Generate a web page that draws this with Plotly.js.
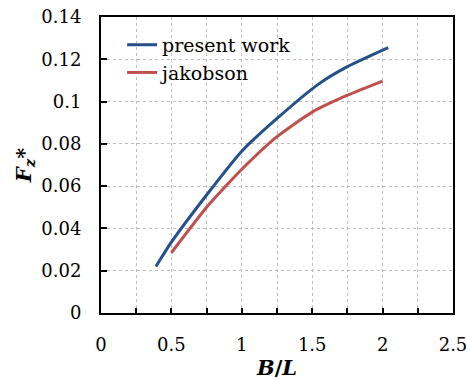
<!DOCTYPE html>
<html>
<head>
<meta charset="utf-8">
<script src="https://cdn.plot.ly/plotly-3.0.1.min.js"></script>
<style>
html,body{margin:0;padding:0;background:#fff;}
#chart{width:467px;height:380px;}
</style>
</head>
<body>
<div id="chart"></div>
<script>
const presentX = [0.39, 0.5, 0.75, 1.0, 1.25, 1.55, 1.75, 2.04];
const presentY = [0.022, 0.0335, 0.0558, 0.0765, 0.092, 0.1085, 0.1165, 0.1255];
const jakobsonX = [0.5, 0.75, 0.9, 1.0, 1.25, 1.5, 1.75, 2.0];
const jakobsonY = [0.0285, 0.050, 0.061, 0.068, 0.0834, 0.095, 0.103, 0.1097];
const seriesNames = ["present work", "jakobson"];

const font = "DejaVu Serif";
const traces = [
  {x: presentX, y: presentY, name: seriesNames[0], mode: "lines", type: "scatter",
   line: {color: "#24508C", width: 3, shape: "spline", smoothing: 0.6}},
  {x: jakobsonX, y: jakobsonY, name: seriesNames[1], mode: "lines", type: "scatter",
   line: {color: "#C0504D", width: 3, shape: "spline", smoothing: 0.6}}
];
const gridc = "#bdbdbd";
const layout = {
  width: 467, height: 380,
  margin: {l: 101, r: 14, t: 17, b: 67},
  paper_bgcolor: "#fff", plot_bgcolor: "#fff",
  font: {family: font, size: 19, color: "#000"},
  showlegend: true,
  legend: {x: 0.06, y: 0.97, xanchor: "left", yanchor: "top", bgcolor: "rgba(0,0,0,0)",
           font: {family: font, size: 19, color: "#000"}, tracegroupgap: 0, itemwidth: 30},
  xaxis: {
    range: [0, 2.5], dtick: 0.5, tick0: 0,
    showline: true, linecolor: "#000", linewidth: 2, mirror: true,
    ticks: "inside", ticklen: 5, tickcolor: "#000", tickwidth: 2,
    showgrid: true, gridcolor: gridc, griddash: "dot", gridwidth: 1,
    minor: {dtick: 0.25, ticks: "inside", ticklen: 5, tickcolor: "#000", tickwidth: 2,
            showgrid: true, gridcolor: gridc, griddash: "dot", gridwidth: 1},
    zeroline: false, ticklabelstandoff: 14, ticklabeloverflow: "allow",
    tickfont: {family: font, size: 18, color: "#000"},
    title: {text: "<b><i>B</i></b><b>/</b><b><i>L</i></b>", font: {family: font, size: 21}, standoff: 8}
  },
  yaxis: {
    range: [0, 0.14], dtick: 0.02, tick0: 0,
    showline: true, linecolor: "#000", linewidth: 2, mirror: true,
    ticks: "inside", ticklen: 6, tickcolor: "#000", tickwidth: 2,
    showgrid: true, gridcolor: gridc, griddash: "dot", gridwidth: 1,
    zeroline: false, ticklabelstandoff: 14,
    tickfont: {family: font, size: 18, color: "#000"},
    title: {text: "<b><i>F<sub>z</sub>*</i></b>", font: {family: font, size: 21}, standoff: 4}
  }
};
Plotly.newPlot("chart", traces, layout, {staticPlot: true, displayModeBar: false});
</script>
</body>
</html>
